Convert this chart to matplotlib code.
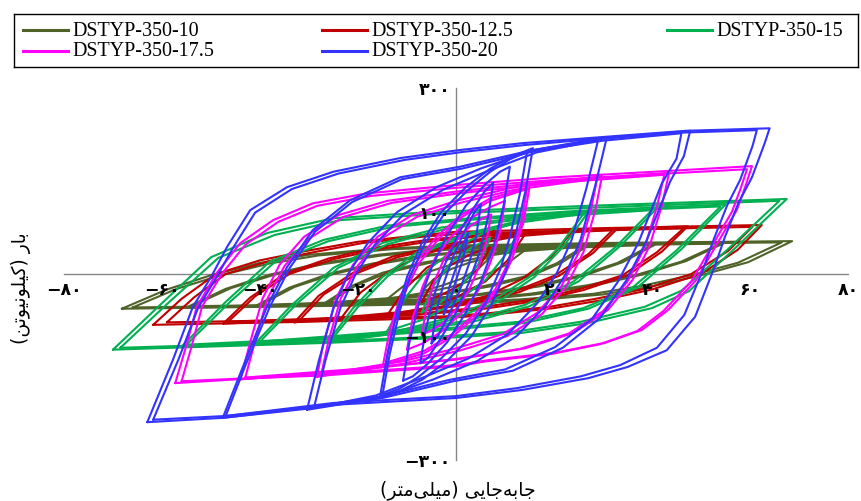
import matplotlib
matplotlib.use("Agg")
import matplotlib.pyplot as plt

# ---- data (displacement mm, load kN); one inner list per cycle ----
series_names = ["DSTYP-350-10", "DSTYP-350-12.5", "DSTYP-350-15", "DSTYP-350-17.5", "DSTYP-350-20"]
series_colors = ["#4f6228", "#c00000", "#00b050", "#ff00ff", "#3333ff"]

olive_x = [
    [-68.2, -59, -50, -40, -30, -15, 0, 30, 68.6, 59.6, 50, 40, 30, 15, 0, -30, -68.2],
    [-66, -57, -48, -38, -28, -13, 1, 30, 66.5, 57.5, 48, 38, 28, 13, -1, -30, -66],
    [-55, -47, -38, -28, -16, -3, 20, 55, 47, 38, 28, 16, 3, -20, -55],
    [-54, -46, -37, -27, -15, -2, 20, 54, 46, 37, 27, 15, 2, -20, -54],
    [-41, -34, -26, -17, -6, 8, 41, 34, 26, 17, 6, -8, -41],
    [-40, -33, -25, -16, -5, 8, 40, 33, 25, 16, 5, -8, -40],
    [-27, -21.5, -15, -7, 2, 12, 27, 21.5, 15, 7, -2, -12, -27],
    [-26, -20.5, -14, -6, 2, 12, 26, 20.5, 14, 6, -2, -12, -26],
    [-14, -10, -5, 1, 7, 14, 10, 5, -1, -7, -14],
    [-7, -4.5, -1, 3, 7, 4.5, 1, -3, -7],
]
olive_y = [
    [-56, -25, -2, 18, 31, 41, 46, 50, 53, 19, -2, -20, -33, -43, -48, -52, -56],
    [-54, -24, -2, 17, 30, 40, 44, 48, 51, 18, -2, -19, -32, -41, -46, -50, -54],
    [-54, -24, -1, 17, 31, 41, 47, 51, 21, -1, -19, -33, -43, -50, -54],
    [-52, -23, -1, 16, 30, 39, 45, 49, 20, -1, -18, -32, -41, -48, -52],
    [-52, -22, 0, 17, 31, 40, 49, 19, -3, -20, -33, -43, -52],
    [-50, -21, 0, 16, 30, 38, 47, 18, -3, -19, -32, -41, -50],
    [-48, -20, 2, 18, 30, 38, 46, 18, -4, -20, -32, -40, -48],
    [-46, -19, 2, 17, 29, 36, 44, 17, -4, -19, -31, -38, -46],
    [-40, -15, 5, 20, 30, 38, 14, -6, -21, -31, -40],
    [-28, -8, 8, 19, 27, 8, -8, -19, -28],
]

red_x = [
    [-61.8, -56, -49, -40, -30, -20, -8, 0, 30, 62.4, 57.5, 50, 40, 30, 20, 8, 0, -30, -61.8],
    [-59, -53.5, -47, -38, -28.5, -19, -7, 1, 30, 60.5, 55.5, 48, 38.5, 28.5, 19, 7, -1, -30, -59],
    [-47.5, -42, -35, -26, -16, -5, 8, 25, 47.3, 42, 35, 26, 16, 5, -8, -25, -47.5],
    [-46.5, -41, -34, -25, -15, -4, 8, 25, 46.5, 41, 34, 25, 15, 4, -8, -25, -46.5],
    [-33, -28, -21, -13, -3, 8, 19, 33, 28, 21, 13, 3, -8, -19, -33],
    [-32, -27, -20, -12, -2, 8, 19, 32, 27, 20, 12, 2, -8, -19, -32],
    [-23.7, -19.5, -13.5, -6.5, 2, 11, 24, 19.5, 13.5, 6.5, -2, -11, -23.7],
    [-14, -10.5, -6, 0, 6.5, 14, 10.5, 6, 0, -6.5, -14],
    [-7, -4.5, -1, 3, 7, 4.5, 1, -3, -7],
]
red_y = [
    [-82, -40, 0, 22, 38, 52, 62, 68, 74, 79, 39, 0, -25, -42, -55, -65, -70, -77, -82],
    [-78, -38, 0, 21, 36, 50, 60, 65, 71, 76, 37, 0, -24, -40, -53, -63, -68, -74, -78],
    [-80, -38, 0, 25, 43, 56, 65, 71, 77, 36, -2, -26, -44, -57, -66, -73, -80],
    [-77, -36, 0, 24, 41, 54, 63, 69, 74, 35, -2, -25, -42, -55, -64, -71, -77],
    [-78, -35, 2, 28, 47, 60, 67, 74, 34, -3, -29, -48, -61, -69, -78],
    [-75, -33, 2, 27, 45, 58, 65, 71, 32, -3, -28, -46, -59, -67, -75],
    [-74, -30, 5, 32, 50, 62, 71, 28, -8, -35, -52, -64, -74],
    [-66, -25, 10, 35, 52, 63, 22, -12, -38, -55, -66],
    [-45, -10, 15, 32, 43, 8, -17, -34, -45],
]

green_x = [
    [-70, -60, -50, -38.6, -25, -5, 27, 67.5, 57, 47.5, 40, 27, 13.5, 0, -26, -70],
    [-68.5, -58.5, -48.5, -37, -23.5, -3.5, 28, 66, 55.5, 46, 38.5, 25.5, 12, -1.5, -27, -68.5],
    [-56, -47, -38, -27, -14, 3, 25, 55, 46, 37, 27, 14, -3, -25, -56],
    [-55, -46, -37, -26, -13, 4, 26, 54, 45, 36, 26, 13, -4, -26, -55],
    [-41, -33.5, -25, -15, -3, 15, 41, 33.5, 25, 15, 3, -15, -41],
    [-40, -32.5, -24, -14, -2, 15, 40, 32.5, 24, 14, 2, -15, -40],
    [-26.3, -21, -15, -8, 2, 13, 27, 22, 16, 8.5, -1.5, -12.5, -26.3],
    [-25.5, -20, -14, -7, 2.5, 13, 26, 21, 15, 7.5, -2, -12.5, -25.5],
    [-14, -10.5, -6, 0, 6.5, 14, 10.5, 6, 0, -6.5, -14],
    [-7, -4.5, -1, 3, 7, 4.5, 1, -3, -7],
]
green_y = [
    [-122, -47, 27, 66, 90, 100, 110, 121, 42, -28, -55, -79, -95, -102, -111, -122],
    [-119, -45, 26, 63, 87, 97, 107, 118, 40, -27, -53, -77, -93, -100, -109, -119],
    [-117, -45, 20, 55, 78, 90, 102, 112, 40, -22, -56, -79, -91, -105, -117],
    [-114, -44, 19, 53, 76, 88, 100, 109, 38, -22, -55, -77, -89, -103, -114],
    [-112, -50, 10, 50, 75, 93, 106, 45, -12, -52, -78, -97, -112],
    [-109, -48, 10, 48, 73, 90, 103, 43, -12, -50, -76, -94, -109],
    [-111, -55, -5, 35, 65, 86, 100, 45, -5, -45, -75, -96, -111],
    [-107, -53, -4, 34, 63, 83, 97, 43, -5, -43, -72, -93, -107],
    [-92, -40, 5, 42, 70, 86, 35, -10, -45, -73, -92],
    [-62, -18, 18, 42, 58, 15, -20, -45, -62],
]

magenta_x = [
    [-57.3, -55.2, -52.9, -48.8, -44, -37.3, -29.2, -18.2, -4.7, 0.8, 20.2, 40.6, 60.4,
     59, 57.3, 53, 49, 43.3, 38, 30.4, 20.2, 6.5, 0, -28, -45, -57.3],
    [-56, -54, -51.8, -47.7, -43, -36.3, -28.3, -17.3, -4, 1.5, 20.5, 40.5, 59.4,
     58, 56.3, 52, 48, 42.3, 37, 29.5, 19.5, 6, 0, -28, -45, -56],
    [-44, -42, -39.5, -36, -31, -24, -14, 0, 20, 43.5, 42, 39.5, 36, 31, 24, 14, 0, -20, -44],
    [-43, -41, -38.5, -35, -30, -23, -13, 0.5, 20, 42.5, 41, 38.5, 35, 30, 23, 13, 0, -20, -43],
    [-28.4, -27, -24.5, -21, -16, -9, 0, 12, 29.8, 28.5, 26, 22.5, 17.5, 10.5, 1, -11, -28.4],
    [-27.5, -26, -23.5, -20, -15, -8, 1, 12, 28.8, 27.5, 25, 21.5, 16.5, 9.5, 0, -11, -27.5],
    [-14.9, -13.5, -11, -8, -4, 1, 7, 15, 13.8, 11.5, 8.5, 4.5, -0.5, -6.5, -14.9],
    [-14.3, -13, -10.5, -7.5, -3.5, 1.2, 7, 14.5, 13.3, 11, 8, 4, -0.8, -6.5, -14.3],
    [-10, -8.8, -6.8, -4.3, -1, 3, 7, 10, 9, 7, 4.5, 1.2, -2.8, -6.8, -10],
    [-7, -6, -4.4, -2.4, 0.2, 3, 5.5, 7.2, 6.2, 4.6, 2.6, 0, -2.8, -5.3, -7],
]
magenta_y = [
    [-176, -120, -53, 2, 50, 87, 114, 130, 140, 144, 156, 165, 174,
     140, 103, 45, -10, -58, -90, -111, -127, -139, -147, -162, -170, -176],
    [-173, -118, -52, 1, 47, 84, 110, 126, 136, 140, 152, 161, 169,
     136, 100, 42, -12, -60, -92, -113, -129, -141, -149, -164, -169, -173],
    [-170, -110, -40, 15, 60, 95, 118, 133, 150, 163, 110, 45, -10, -58, -95, -120, -137, -155, -170],
    [-167, -108, -40, 13, 57, 92, 115, 130, 147, 160, 108, 43, -12, -60, -96, -121, -138, -153, -167],
    [-166, -110, -40, 15, 60, 95, 118, 140, 158, 105, 35, -20, -65, -100, -123, -145, -166],
    [-162, -107, -39, 14, 58, 92, 115, 136, 154, 102, 34, -20, -63, -97, -120, -141, -162],
    [-147, -90, -30, 20, 60, 95, 122, 140, 85, 25, -25, -65, -100, -128, -147],
    [-143, -88, -30, 18, 57, 92, 118, 137, 83, 24, -25, -63, -97, -124, -143],
    [-122, -70, -20, 25, 60, 90, 108, 118, 68, 18, -27, -62, -92, -112, -122],
    [-98, -55, -12, 25, 55, 78, 90, 96, 53, 10, -27, -57, -80, -92, -98],
]

blue_x = [
    [-63, -57.8, -53.7, -50, -46.7, -42, -34.5, -25, -11.4, 0.8, 13.5, 30, 47, 64,
     63, 60.4, 57.6, 54.9, 52.5, 48.8, 43, 35, 27, 13.5, 0, -25, -47.6, -63],
    [-61.8, -56.6, -52.6, -49, -45.6, -41, -33.5, -24, -10.5, 1.5, 14, 30, 46, 61.4,
     60.5, 58, 55.3, 52.6, 50.2, 46.6, 41, 33.5, 25.5, 12.5, 0, -25, -47, -61.8],
    [-47.6, -43.5, -38.6, -34.5, -29.2, -21.6, -11.4, 0.8, 15.7, 30, 47.8,
     46.5, 43.7, 38.8, 34.7, 29.4, 21.8, 11.6, -0.6, -15, -30, -47.6],
    [-47, -43, -38, -34, -28.8, -21.2, -11, 1.2, 16, 30, 46,
     45, 42, 37.2, 33, 27.8, 20.2, 10, -1.5, -15, -30, -47],
    [-30.4, -28, -25, -22, -18, -12, -4, 5, 16, 30.8,
     28.4, 25.4, 22.4, 18.4, 12.4, 4.4, -4.6, -15.6, -30.4],
    [-29, -26.6, -23.6, -20.6, -16.6, -10.6, -2.6, 6.4, 16.4, 29,
     26.6, 23.6, 20.6, 16.6, 10.6, 2.6, -6.4, -16.4, -29],
    [-15.5, -14, -12, -10, -7, -3, 2, 7, 11.5, 15.7,
     14.2, 12.2, 10.2, 7.2, 3.2, -1.8, -6.8, -11.3, -15.5],
    [-15, -13.5, -11.5, -9.5, -6.5, -2.5, 2.5, 7, 11, 14.5,
     13, 11, 9, 6, 2, -3, -7.5, -11.5, -15],
    [-10.8, -9.5, -7.5, -5, -2, 2, 6, 9, 11, 9.7, 7.7, 5.2, 2.2, -1.8, -5.8, -8.8, -10.8],
    [-7.3, -6.2, -4.5, -2.3, 0.5, 3.5, 6, 7.6, 6.5, 4.8, 2.6, -0.2, -3.2, -5.7, -7.3],
    [-5, -4, -2.5, -0.5, 1.8, 3.8, 5.1, 4.1, 2.6, 0.6, -1.7, -3.7, -5],
    [-2.5, -1.5, 0, 1.3, 2.5, 1.5, 0, -1.3, -2.5],
]
blue_y = [
    [-239, -139, -53, -5, 44, 103, 140, 165, 187, 200, 211, 221, 231, 235,
     211, 156, 114, 60, 6, -69, -123, -150, -168, -187, -200, -211, -232, -239],
    [-235, -137, -54, -7, 41, 99, 137, 162, 184, 197, 208, 219, 228, 232,
     206, 152, 110, 56, 3, -66, -119, -147, -165, -184, -197, -208, -229, -235],
    [-232, -150, -53, 11, 71, 119, 156, 173, 200, 218, 231,
     190, 149, 52, -11, -71, -119, -156, -173, -200, -217, -232],
    [-229, -148, -53, 9, 68, 116, 153, 170, 198, 215, 227,
     186, 146, 50, -13, -72, -118, -154, -171, -197, -215, -229],
    [-219, -140, -55, 0, 50, 100, 140, 170, 200, 221,
     142, 55, 0, -50, -100, -140, -170, -200, -219],
    [-216, -138, -55, -2, 47, 97, 136, 166, 196, 216,
     138, 55, 2, -47, -97, -136, -166, -196, -216],
    [-198, -130, -60, -5, 50, 100, 140, 170, 190, 203,
     135, 65, 5, -50, -100, -140, -170, -188, -198],
    [-195, -128, -60, -7, 47, 96, 136, 165, 185, 197,
     128, 60, 7, -47, -96, -136, -165, -185, -195],
    [-172, -110, -45, 10, 60, 110, 145, 165, 173, 110, 45, -10, -60, -110, -145, -165, -172],
    [-144, -90, -35, 15, 65, 105, 135, 147, 90, 35, -15, -65, -105, -135, -144],
    [-112, -60, -15, 30, 70, 100, 113, 60, 15, -30, -70, -100, -112],
    [-65, -25, 10, 45, 66, 25, -10, -45, -65],
]

series_x = [olive_x, red_x, green_x, magenta_x, blue_x]
series_y = [olive_y, red_y, green_y, magenta_y, blue_y]

x_ticks = [-80, -60, -40, -20, 0, 20, 40, 60, 80]
x_tick_labels = ["\u2212\u06f8\u06f0", "\u2212\u06f6\u06f0", "\u2212\u06f4\u06f0", "\u2212\u06f2\u06f0",
                 "\u06f0", "\u06f2\u06f0", "\u06f4\u06f0", "\u06f6\u06f0", "\u06f8\u06f0"]
y_ticks = [-300, -100, 100, 300]
y_tick_labels = ["\u2212\u06f3\u06f0\u06f0", "\u2212\u06f1\u06f0\u06f0", "\u06f1\u06f0\u06f0", "\u06f3\u06f0\u06f0"]

# axis titles, written in visual order with Arabic presentation forms (no shaping engine in matplotlib)
# "جابه‌جایی (میلی‌متر)"
x_title = ("(" + "\ufeae\ufe98\ufee3" + "\ufef0\ufee0\ufef4\ufee3" + ") "
           + "\ufef0\ufef3\ufe8e\ufe9f" + "\ufeea\ufe91\ufe8e\ufe9f")
# "بار (کیلونیوتن)"
y_title = ("(" + "\ufee6\ufe97\ufeee\ufef4\ufee7\ufeee\ufee0\ufef4\ufb90" + ") "
           + "\ufead\ufe8e\ufe91")


def draw_loops(ax):
    """
    Draws every recorded cycle of each specimen.
    """
    for xs_list, ys_list, color in zip(series_x, series_y, series_colors):
        for xs, ys in zip(xs_list, ys_list):
            ax.plot(xs, ys, color=color, lw=1.5, solid_joinstyle="round", solid_capstyle="round")


def draw_legend(fig):
    """
    Boxed legend across the top, laid out in rows like the source chart.
    """
    lax = fig.add_axes([14 / 861, 1 - 67 / 501, 844 / 861, 53 / 501])
    lax.set_xlim(14, 858)
    lax.set_ylim(67, 14)
    lax.set_xticks([])
    lax.set_yticks([])
    for s in lax.spines.values():
        s.set_color("black")
        s.set_linewidth(1.0)

    slots = [(23, 30), (322, 30), (667, 30), (23, 51), (322, 51)]
    for (x0, y0), name, color in zip(slots, series_names, series_colors):
        lax.plot([x0, x0 + 45], [y0, y0], color=color, lw=2.2)
        lax.text(x0 + 49, y0 + 1, name, fontsize=14.4, family="Liberation Serif",
                 va="center", ha="left")


def main():
    fig = plt.figure(figsize=(8.61, 5.01), dpi=100)
    ax = fig.add_axes([64 / 861, 41 / 501, 784 / 861, 372 / 501])

    draw_loops(ax)

    ax.set_xlim(-80, 80)
    ax.set_ylim(-300, 300)
    ax.spines["left"].set_position(("data", 0))
    ax.spines["bottom"].set_position(("data", 0))
    ax.spines["top"].set_visible(False)
    ax.spines["right"].set_visible(False)
    for side in ("left", "bottom"):
        ax.spines[side].set_color("#868686")
        ax.spines[side].set_linewidth(1.0)
        ax.spines[side].set_zorder(0.5)

    ax.set_xticks(x_ticks)
    ax.set_xticklabels(x_tick_labels, fontsize=12.5, fontweight="bold", family="DejaVu Sans")
    ax.set_yticks(y_ticks)
    ax.set_yticklabels(y_tick_labels, fontsize=12.5, fontweight="bold", family="DejaVu Sans")
    ax.tick_params(axis="both", length=0)
    ax.tick_params(axis="x", pad=5)
    ax.tick_params(axis="y", pad=4)
    # tick labels sit on top of the loops, as in the source
    ax.xaxis.set_zorder(5)
    ax.yaxis.set_zorder(5)
    ax.patch.set_alpha(0)

    fig.text(458 / 861, 1 - 490 / 501, x_title, fontsize=13.5, family="DejaVu Sans",
             ha="center", va="center")
    fig.text(21 / 861, 1 - 288 / 501, y_title, fontsize=13.5, family="DejaVu Sans",
             ha="center", va="center", rotation=90)

    draw_legend(fig)

    fig.savefig("out.png", dpi=100)
    plt.close(fig)


if __name__ == "__main__":
    main()
